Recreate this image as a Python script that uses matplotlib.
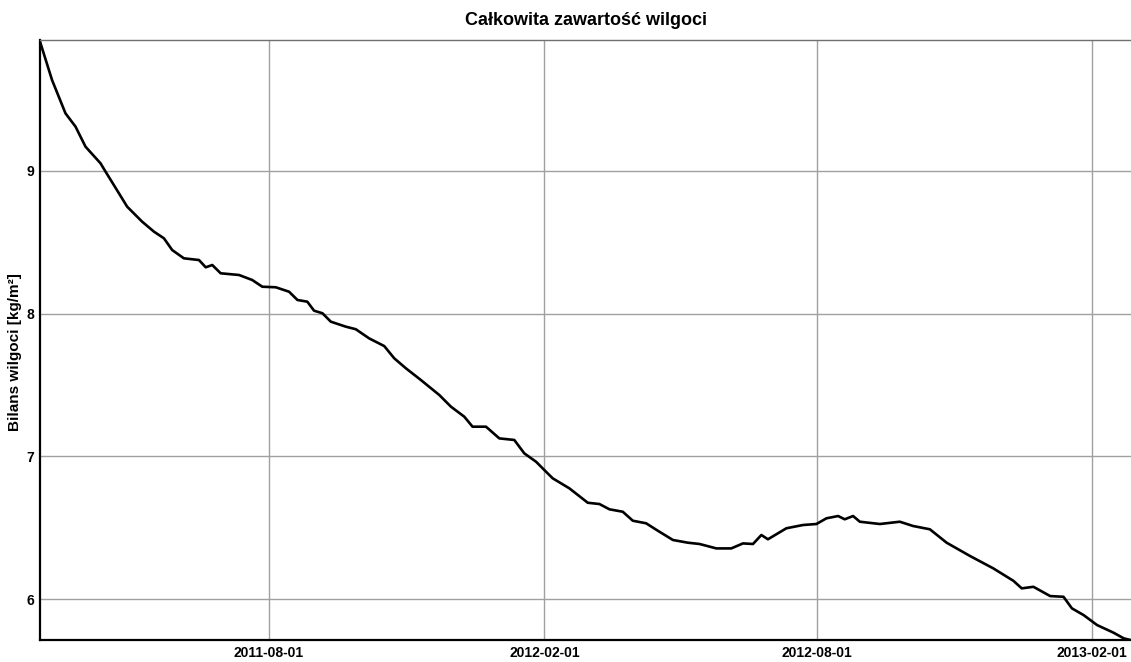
import pandas as pd
import matplotlib.pyplot as plt
import matplotlib.dates as mdates

plt.rcParams['font.family'] = ['Liberation Sans', 'DejaVu Sans']

start = pd.Timestamp('2011-03-01')

# days since 2011-03-01
days = [0, 8.0, 17.0, 23.7, 30.4, 40.4, 43.8, 52.7, 58.2, 68.2, 76.1, 82.8, 88.3,
        96.1, 106.2, 110.7, 115.1, 120.7, 133.0, 141.8, 148.5, 157.5, 166.4, 172.0,
        178.6, 183.1, 188.7, 194.3, 204.3, 211.0, 219.9, 230.0, 236.7, 244.5, 254.5,
        266.8, 274.6, 283.5, 289.0, 298.0, 306.9, 316.9, 323.6, 331.5, 339.2, 342.6,
        353.7, 366.0, 373.8, 380.5, 389.4, 396.1, 405.0, 412.8, 422.9, 432.9, 440.7,
        451.9, 461.9, 469.7, 476.4, 482.0, 486.4, 498.7, 509.8, 518.8, 525.5, 533.3,
        537.7, 543.3, 547.8, 561.2, 574.5, 583.4, 594.6, 605.8, 621.4, 637.0, 650.4,
        656.0, 663.8, 675.0, 683.9, 689.5, 697.3, 706.3, 717.4, 724.1, 728.6]

moisture = [9.906, 9.638, 9.404, 9.311, 9.170, 9.054, 8.995, 8.844, 8.750, 8.645,
            8.575, 8.528, 8.446, 8.388, 8.376, 8.325, 8.341, 8.283, 8.271, 8.236,
            8.189, 8.185, 8.154, 8.096, 8.084, 8.021, 8.003, 7.944, 7.909, 7.891,
            7.827, 7.773, 7.687, 7.617, 7.535, 7.430, 7.348, 7.278, 7.208, 7.208,
            7.126, 7.115, 7.021, 6.962, 6.881, 6.846, 6.776, 6.675, 6.666, 6.629,
            6.612, 6.549, 6.531, 6.479, 6.414, 6.395, 6.386, 6.355, 6.355, 6.390,
            6.386, 6.449, 6.419, 6.496, 6.519, 6.526, 6.566, 6.582, 6.559, 6.582,
            6.542, 6.526, 6.542, 6.512, 6.489, 6.395, 6.302, 6.215, 6.128, 6.075,
            6.086, 6.021, 6.016, 5.935, 5.888, 5.818, 5.764, 5.725, 5.713]

x_ticks = ['2011-08-01', '2012-02-01', '2012-08-01', '2013-02-01']
y_ticks = [6, 7, 8, 9]

dates = start + pd.to_timedelta(days, unit='D')

fig = plt.figure(figsize=(11.31, 6.62), dpi=100)
ax = fig.add_axes([0.0354, 0.0332, 0.9646, 0.9064])

ax.plot(dates, moisture, color='black', lw=1.9)

ax.set_xlim(start, start + pd.Timedelta(days=729))
ax.set_ylim(5.713, 9.918)

ax.set_xticks(pd.to_datetime(x_ticks))
ax.xaxis.set_major_formatter(mdates.DateFormatter('%Y-%m-%d'))
ax.set_yticks(y_ticks)
ax.tick_params(length=0, labelsize=10, pad=4)
for lab in ax.get_xticklabels() + ax.get_yticklabels():
    lab.set_fontweight('bold')

ax.grid(True, color='#a0a0a0', lw=1)
ax.set_axisbelow(True)

ax.spines['right'].set_visible(False)
ax.spines['top'].set_color('#707070')
ax.spines['top'].set_linewidth(1)
ax.spines['left'].set_linewidth(1.6)
ax.spines['bottom'].set_linewidth(1.6)

ax.set_title('Całkowita zawartość wilgoci', fontsize=13, fontweight='bold', pad=11)
ax.set_ylabel('Bilans wilgoci [kg/m\u00b2]', fontsize=11, fontweight='bold')
ax.yaxis.set_label_coords(-0.0165, 0.48)

plt.savefig('out.png', dpi=100)
plt.close()
